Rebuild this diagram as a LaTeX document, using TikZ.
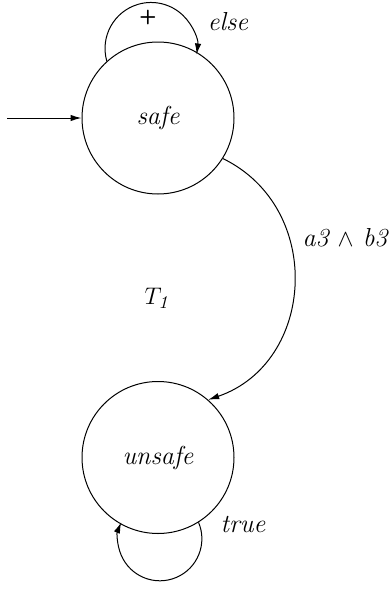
\documentclass[tikz,border=0pt]{standalone}
\usetikzlibrary{arrows.meta}
\begin{document}
\begin{tikzpicture}[x=0.5pt,y=0.5pt,
  state/.style={draw,circle,line width=0.5pt,minimum size=76pt,inner sep=0pt,font=\fontsize{13}{15}\selectfont\itshape},
  edge/.style={line width=0.5pt,-{Latex[length=5.5pt,width=3.2pt]}},
  lbl/.style={font=\fontsize{13}{15}\selectfont\itshape,inner sep=1pt}]
\useasboundingbox (0,0) rectangle (389,-589);
\node[state] (safe) at (158,-118) {safe};
\node[state] (unsafe) at (158,-457.5) {unsafe};
\coordinate (init) at (7,-118);
\draw[edge] (init) -- (safe.west);
\draw[edge] (safe.132) arc[start angle=196,end angle=-7.5,radius=23pt];
\draw[edge] (safe.-32) to[out=-26,in=19,looseness=1.2] (unsafe.49);
\draw[edge] (unsafe.-58.6) arc[start angle=23,end angle=-203,radius=21pt];
\node[lbl,font=\fontsize{10}{12}\selectfont\sffamily\bfseries] (plus) at (148,-18) {+};
\node[lbl] (else) at (228,-22) {else};
\node[lbl] (cond) at (345,-238) {a3 $\wedge$ b3};
\node[lbl] (t1) at (158,-298) {$T_{\mathit{1}}$};
\node[lbl] (true) at (243,-524) {true};
\end{tikzpicture}
\end{document}
